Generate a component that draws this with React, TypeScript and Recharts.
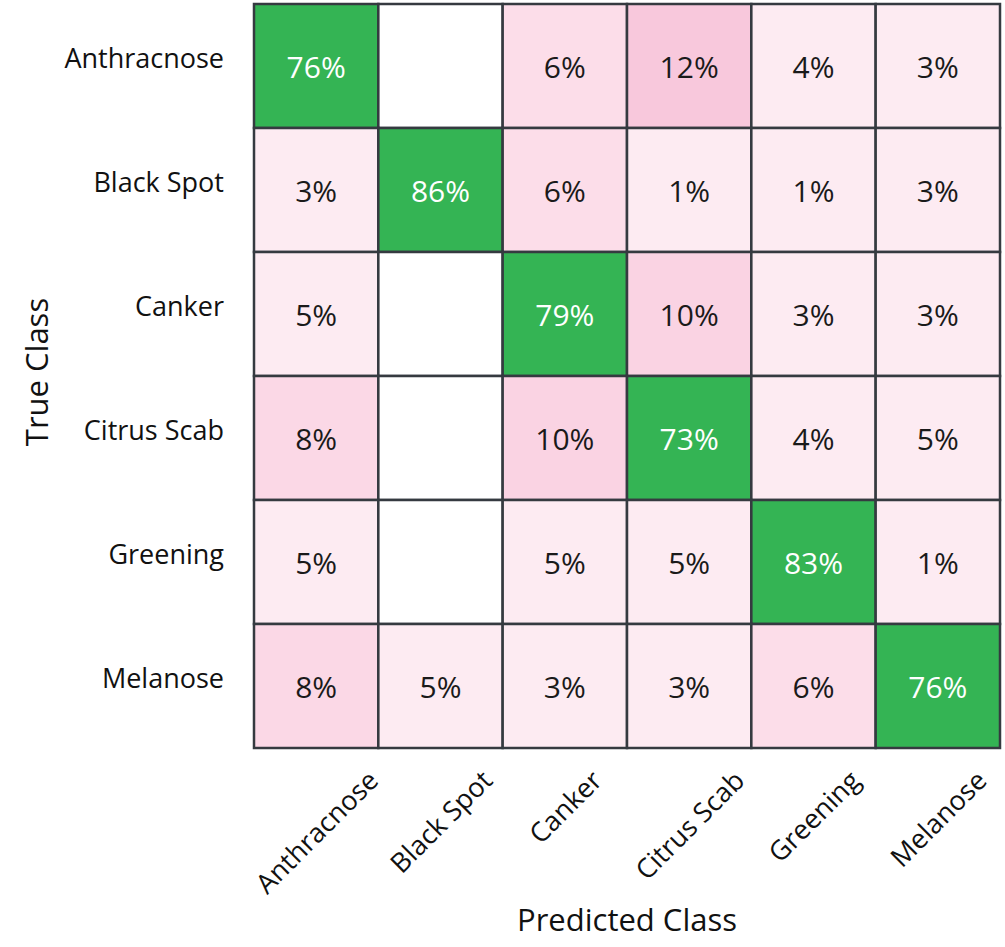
import React from 'react';
import { ScatterChart, Scatter, XAxis, YAxis, Label } from 'recharts';

const classes = ['Anthracnose', 'Black Spot', 'Canker', 'Citrus Scab', 'Greening', 'Melanose'];

const anthracnoseRow = [76, 0, 6, 12, 4, 3];
const blackSpotRow = [3, 86, 6, 1, 1, 3];
const cankerRow = [5, 0, 79, 10, 3, 3];
const citrusScabRow = [8, 0, 10, 73, 4, 5];
const greeningRow = [5, 0, 5, 5, 83, 1];
const melanoseRow = [8, 5, 3, 3, 6, 76];

const matrix = [anthracnoseRow, blackSpotRow, cankerRow, citrusScabRow, greeningRow, melanoseRow];

const tickPositions = classes.map((_, i) => i + 0.5);

const cellData = matrix.flatMap((row, r) =>
  row.map((value, c) => ({ col: c + 0.5, row: r + 0.5, value, diag: r === c }))
);

const W = 1005;
const H = 947;
const MARGIN = { top: 4, right: 5, left: 0, bottom: 0 };
const Y_AXIS_W = 254;
const X_AXIS_H = 199;
const PLOT_W = W - MARGIN.right - MARGIN.left - Y_AXIS_W;
const PLOT_H = H - MARGIN.top - MARGIN.bottom - X_AXIS_H;
const CELL_W = PLOT_W / classes.length;
const CELL_H = PLOT_H / classes.length;

const FONT = '"Open Sans", "Noto Sans", sans-serif';
const GREEN = '#34b454';

function cellColor(v: number, diag: boolean) {
  if (v === 0) return '#ffffff';
  if (diag || v >= 50) return GREEN;
  if (v >= 12) return '#f8c8dc';
  if (v >= 10) return '#fad3e3';
  if (v >= 8) return '#fbd8e6';
  if (v >= 6) return '#fcdde9';
  return '#fdebf2';
}

let ctx: CanvasRenderingContext2D | null = null;
function measure(text: string, size: number) {
  if (!ctx) {
    const c = document.createElement('canvas');
    ctx = c.getContext('2d');
  }
  if (!ctx) return text.length * size * 0.5;
  ctx.font = `${size}px "Open Sans"`;
  return ctx.measureText(text).width;
}

const CellShape = (props: any) => {
  const { cx, cy, payload } = props;
  const v = payload.value;
  return (
    <g>
      <rect
        x={cx - CELL_W / 2}
        y={cy - CELL_H / 2}
        width={CELL_W}
        height={CELL_H}
        fill={cellColor(v, payload.diag)}
        stroke="#353a40"
        strokeWidth={2.5}
      />
      {v > 0 && (
        <text
          x={cx}
          y={cy}
          textAnchor="middle"
          dominantBaseline="central"
          fontFamily={FONT}
          fontSize={30}
          fill={payload.diag ? '#ffffff' : '#1a1a1a'}
        >
          {`${v}%`}
        </text>
      )}
    </g>
  );
};

const XTick = (props: any) => {
  const { x, payload } = props;
  const label = classes[Math.round(payload.value - 0.5)];
  const size = 27;
  const w = measure(label, size);
  const top = 768;
  const cy = top + ((w + size * 0.72) * Math.SQRT1_2) / 2;
  return (
    <text
      x={x}
      y={cy}
      textAnchor="middle"
      dominantBaseline="central"
      transform={`rotate(-45 ${x} ${cy})`}
      fontFamily={FONT}
      fontSize={size}
      fill="#111"
    >
      {label}
    </text>
  );
};

const YTick = (props: any) => {
  const { x, y, payload } = props;
  const label = classes[Math.round(payload.value - 0.5)];
  return (
    <text
      x={x - 28}
      y={y - 9}
      textAnchor="end"
      dominantBaseline="central"
      fontFamily={FONT}
      fontSize={27}
      fill="#111"
    >
      {label}
    </text>
  );
};

export default function App() {
  return (
    <div style={{ position: 'absolute', left: 0, top: 0, background: '#fff' }}>
      <ScatterChart width={W} height={H} margin={MARGIN}>
        <XAxis
          type="number"
          dataKey="col"
          domain={[0, classes.length]}
          ticks={tickPositions}
          interval={0}
          axisLine={false}
          tickLine={false}
          tickSize={0}
          height={X_AXIS_H}
          tick={<XTick />}
        >
          <Label
            content={(p: any) => {
              const vb = p.viewBox;
              return (
                <text
                  x={vb.x + vb.width / 2}
                  y={vb.y + 171}
                  textAnchor="middle"
                  dominantBaseline="central"
                  fontFamily={FONT}
                  fontSize={31}
                  fill="#111"
                >
                  Predicted Class
                </text>
              );
            }}
          />
        </XAxis>
        <YAxis
          type="number"
          dataKey="row"
          domain={[0, classes.length]}
          reversed
          ticks={tickPositions}
          interval={0}
          axisLine={false}
          tickLine={false}
          tickSize={0}
          width={Y_AXIS_W}
          tick={<YTick />}
        >
          <Label
            content={(p: any) => {
              const vb = p.viewBox;
              const cx = vb.x + 36;
              const cy = vb.y + vb.height / 2 - 4;
              return (
                <text
                  x={cx}
                  y={cy}
                  textAnchor="middle"
                  dominantBaseline="central"
                  transform={`rotate(-90 ${cx} ${cy})`}
                  fontFamily={FONT}
                  fontSize={31}
                  fill="#111"
                >
                  True Class
                </text>
              );
            }}
          />
        </YAxis>
        <Scatter data={cellData} shape={<CellShape />} isAnimationActive={false} />
      </ScatterChart>
    </div>
  );
}
